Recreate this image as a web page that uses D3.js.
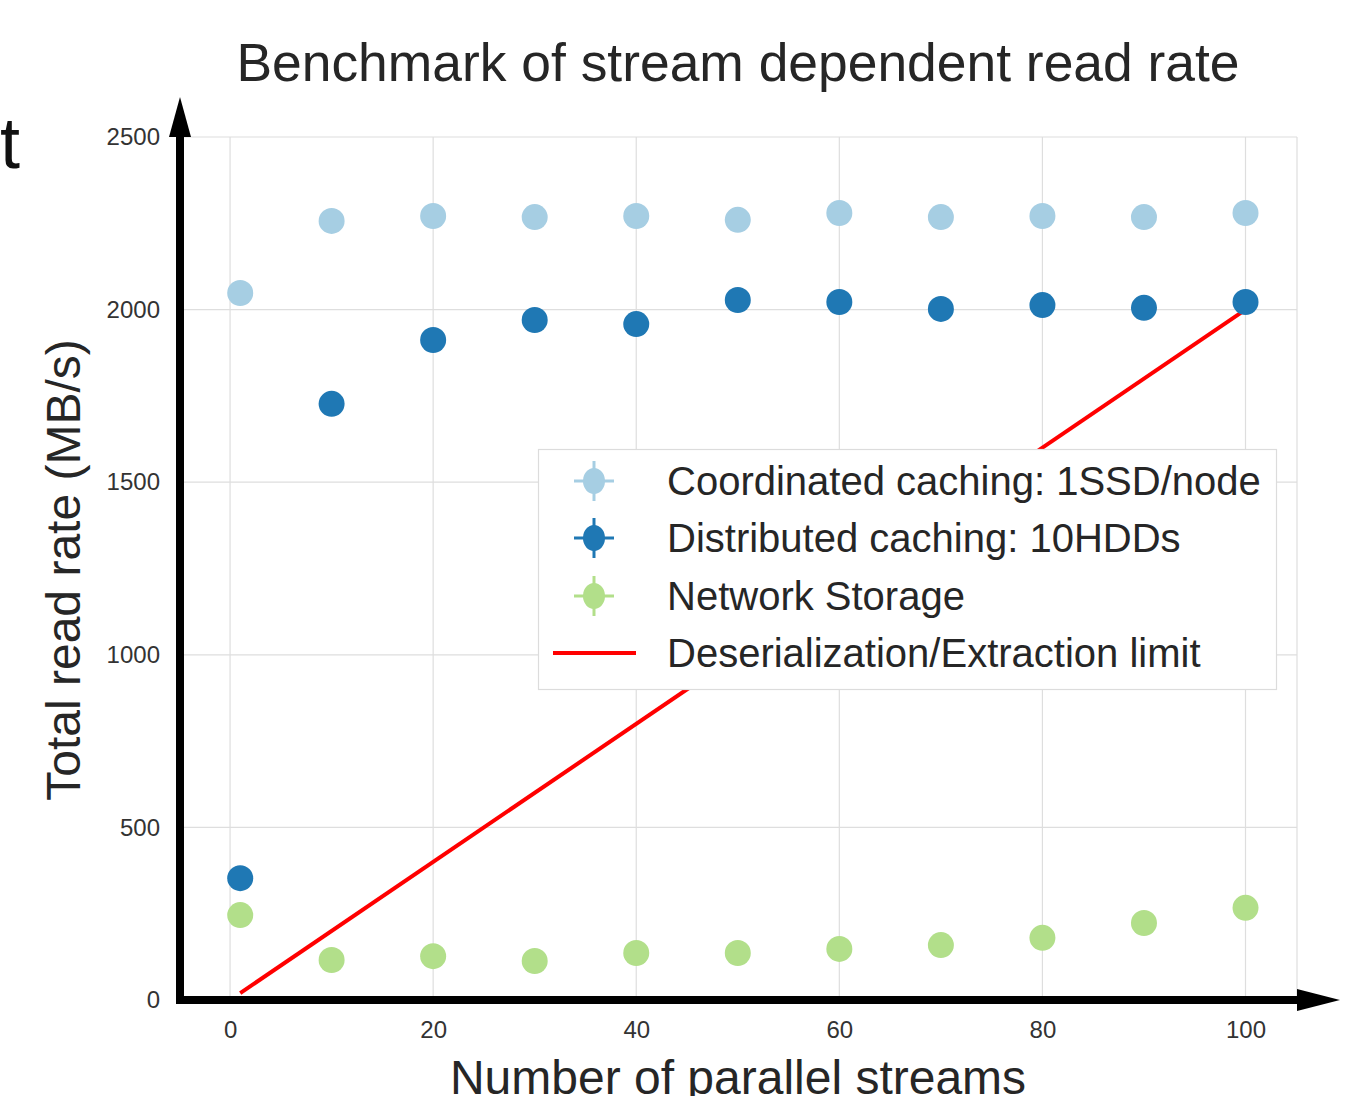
<!DOCTYPE html>
<html><head><meta charset="utf-8">
<script src="https://cdn.jsdelivr.net/npm/d3@7"></script>
<style>body{margin:0;background:#fff;} svg{display:block;} text{font-family:"Liberation Sans",Arial,sans-serif;}</style>
</head><body>
<svg id="c" width="1368" height="1096"></svg>
<script>
const streams = [1,10,20,30,40,50,60,70,80,90,100];
const coordinated = [2048,2257,2271,2268,2271,2260,2280,2268,2271,2268,2280];
const distributed = [353,1727,1912,1970,1958,2028,2022,2002,2013,2005,2022];
const network = [246,116,127,113,136,136,148,159,180,223,267];
const limitX = [1,100];
const limitY = [20,2000];
const xTicks = [0,20,40,60,80,100];
const yTicks = [0,500,1000,1500,2000,2500];
const seriesNames = ["Coordinated caching: 1SSD/node","Distributed caching: 10HDDs","Network Storage","Deserialization/Extraction limit"];
const colors = ["#a6cee3","#1f78b4","#b2df8a","#ff0000"];

const svg = d3.select("#c");
const L=180,R=1297,T=137,B=1000;
const x = d3.scaleLinear().domain([-4.93,105.07]).range([L,R]);
const y = d3.scaleLinear().domain([0,2500]).range([B,T]);

// grid
const g = svg.append("g");
g.selectAll(".vg").data(xTicks).join("line").attr("x1",d=>x(d)).attr("x2",d=>x(d)).attr("y1",T).attr("y2",B).attr("stroke","#dedede").attr("stroke-width",1.2);
g.selectAll(".hg").data(yTicks).join("line").attr("x1",L).attr("x2",R).attr("y1",d=>y(d)).attr("y2",d=>y(d)).attr("stroke","#dedede").attr("stroke-width",1.2);
g.append("line").attr("x1",R).attr("x2",R).attr("y1",T).attr("y2",B).attr("stroke","#dedede").attr("stroke-width",1.2);

// tick labels via axes
const xAxis = svg.append("g").attr("transform",`translate(0,${B})`).call(d3.axisBottom(x).tickValues(xTicks).tickSize(0).tickPadding(14));
const yAxis = svg.append("g").attr("transform",`translate(${L},0)`).call(d3.axisLeft(y).tickValues(yTicks).tickFormat(d3.format("d")).tickSize(0).tickPadding(20));
[xAxis,yAxis].forEach(a=>{a.select(".domain").remove();a.selectAll("text").attr("font-size",24).attr("fill","#333").attr("font-family","'Liberation Sans',Arial,sans-serif");});
xAxis.selectAll("text").attr("dy","1em");

// red line
svg.append("line").attr("x1",x(limitX[0])).attr("y1",y(limitY[0])).attr("x2",x(limitX[1])).attr("y2",y(limitY[1])).attr("stroke",colors[3]).attr("stroke-width",4);

// points
[coordinated,distributed,network].forEach((s,i)=>{
  svg.append("g").selectAll("circle").data(s).join("circle")
    .attr("cx",(d,j)=>x(streams[j])).attr("cy",d=>y(d)).attr("r",13).attr("fill",colors[i]);
});

// axes arrows
svg.append("line").attr("x1",x.range()[0]-4).attr("x2",1300).attr("y1",B).attr("y2",B).attr("stroke","#000").attr("stroke-width",8);
svg.append("line").attr("x1",L).attr("x2",L).attr("y1",B+4).attr("y2",135).attr("stroke","#000").attr("stroke-width",8);
svg.append("path").attr("d",`M${L-11},137 L${L},97 L${L+11},137 Z`).attr("fill","#000");
svg.append("path").attr("d",`M1297,989 L1340,1000 L1297,1011 Z`).attr("fill","#000");

// legend
const lg = svg.append("g");
lg.append("rect").attr("x",538.5).attr("y",449.5).attr("width",738).attr("height",240).attr("fill","#fff").attr("stroke","#dcdcdc").attr("stroke-width",1.2);
const rows=[481,538,596,653];
seriesNames.forEach((n,i)=>{
  const cy=rows[i];
  if(i<3){
    lg.append("line").attr("x1",594).attr("x2",594).attr("y1",cy-20).attr("y2",cy+20).attr("stroke",colors[i]).attr("stroke-width",3);
    lg.append("line").attr("x1",574).attr("x2",614).attr("y1",cy).attr("y2",cy).attr("stroke",colors[i]).attr("stroke-width",3);
    lg.append("ellipse").attr("cx",594).attr("cy",cy).attr("rx",11).attr("ry",13).attr("fill",colors[i]);
  } else {
    lg.append("line").attr("x1",553).attr("x2",636).attr("y1",cy).attr("y2",cy).attr("stroke",colors[i]).attr("stroke-width",4);
  }
  lg.append("text").attr("x",667).attr("y",cy+14).attr("font-size",40).attr("fill","#262626").text(n);
});

// titles
svg.append("text").attr("x",738).attr("y",81).attr("text-anchor","middle").attr("font-size",53.4).attr("fill","#262626").text("Benchmark of stream dependent read rate");
svg.append("text").attr("transform","translate(80,570) rotate(-90)").attr("text-anchor","middle").attr("font-size",48).attr("fill","#262626").text("Total read rate (MB/s)");
svg.append("text").attr("x",738).attr("y",1094).attr("text-anchor","middle").attr("font-size",48).attr("fill","#262626").text("Number of parallel streams");
svg.append("text").attr("x",0).attr("y",168).attr("font-size",72).attr("fill","#111").text("t");
</script>
</body></html>
